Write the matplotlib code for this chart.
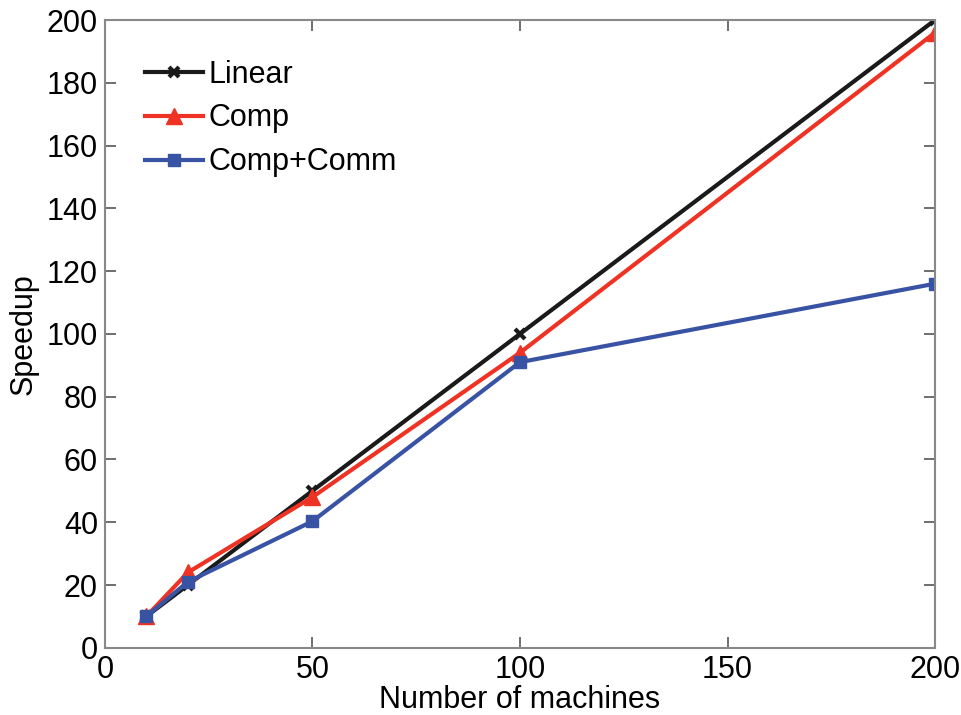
import matplotlib.pyplot as plt

plt.rcParams['font.family'] = ['Liberation Sans', 'DejaVu Sans']

machines = [10, 20, 50, 100, 200]
linear = [10, 20, 50, 100, 200]
comp = [10, 24, 48, 94, 196]
comp_comm = [10, 21, 40.3, 91, 116]

fig = plt.figure(figsize=(9.62, 7.15), dpi=100)
ax = fig.add_axes([0.109, 0.094, 0.863, 0.878])

ax.plot(machines, linear, color='#1a1a1a', lw=3, marker='x', ms=7, mew=3, label='Linear')
ax.plot(machines, comp, color='#ee3324', lw=3, marker='^', ms=11, label='Comp')
ax.plot(machines, comp_comm, color='#3953a4', lw=3, marker='s', ms=9, label='Comp+Comm')

ax.set_xlim(0, 200)
ax.set_ylim(0, 200)
ax.set_xticks([0, 50, 100, 150, 200])
ax.set_yticks(range(0, 201, 20))
ax.tick_params(direction='in', length=8, width=1.2, color='#555555',
               top=True, right=True, labelsize=22, pad=5)
for s in ax.spines.values():
    s.set_color('#888888')
    s.set_linewidth(1.5)

ax.set_xlabel('Number of machines', fontsize=22, labelpad=0)
ax.set_ylabel('Speedup', fontsize=22, labelpad=6)

ax.legend(loc='upper left', fontsize=22, frameon=False, handlelength=1.9,
          handletextpad=0.2, borderaxespad=0.9, labelspacing=0.45)

fig.savefig('out.png', dpi=100)
